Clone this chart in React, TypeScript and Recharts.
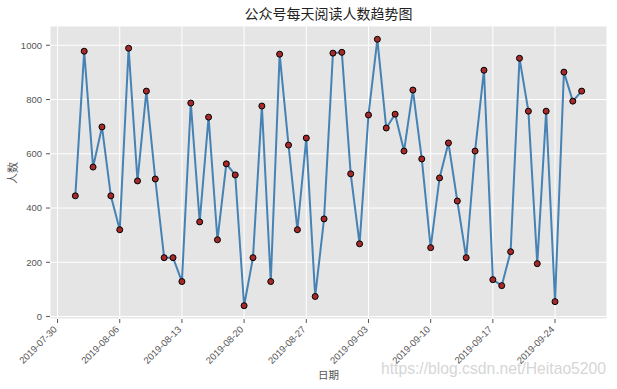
import { CartesianGrid, Line, LineChart, XAxis, YAxis } from "recharts";

// 2019-08-01 .. 2019-09-27
const dates = [
  "2019-08-01", "2019-08-02", "2019-08-03", "2019-08-04", "2019-08-05", "2019-08-06",
  "2019-08-07", "2019-08-08", "2019-08-09", "2019-08-10", "2019-08-11", "2019-08-12",
  "2019-08-13", "2019-08-14", "2019-08-15", "2019-08-16", "2019-08-17", "2019-08-18",
  "2019-08-19", "2019-08-20", "2019-08-21", "2019-08-22", "2019-08-23", "2019-08-24",
  "2019-08-25", "2019-08-26", "2019-08-27", "2019-08-28", "2019-08-29", "2019-08-30",
  "2019-08-31", "2019-09-01", "2019-09-02", "2019-09-03", "2019-09-04", "2019-09-05",
  "2019-09-06", "2019-09-07", "2019-09-08", "2019-09-09", "2019-09-10", "2019-09-11",
  "2019-09-12", "2019-09-13", "2019-09-14", "2019-09-15", "2019-09-16", "2019-09-17",
  "2019-09-18", "2019-09-19", "2019-09-20", "2019-09-21", "2019-09-22", "2019-09-23",
  "2019-09-24", "2019-09-25", "2019-09-26", "2019-09-27",
];

const readers = [
  445, 978, 551, 699, 445, 320, 989, 500, 831, 507, 217, 217, 129, 787, 349,
  735, 283, 563, 522, 40, 217, 776, 129, 967, 632, 320, 658, 74, 360, 971,
  974, 526, 268, 743, 1022, 695, 746, 610, 835, 581, 254, 511, 640, 426, 217,
  610, 908, 136, 114, 239, 952, 757, 195, 757, 55, 901, 794, 831,
];

const xTickLabels = [
  "2019-07-30", "2019-08-06", "2019-08-13", "2019-08-20", "2019-08-27",
  "2019-09-03", "2019-09-10", "2019-09-17", "2019-09-24",
];
const yTicks = [0, 200, 400, 600, 800, 1000];

const DAY = 86400000;
const origin = Date.parse(xTickLabels[0]);
const toDay = (d: string) => (Date.parse(d) - origin) / DAY;

const data = dates.map((d, i) => ({ day: toDay(d), value: readers[i] }));
const xTicks = xTickLabels.map(toDay);

const tickFont = "'Liberation Sans', Arial, sans-serif";
const cjkFont = "'Noto Sans CJK SC', sans-serif";

const XTick = (props: any) => {
  const { x, y, payload } = props;
  const label = xTickLabels[xTicks.indexOf(payload.value)];
  return (
    <text
      x={x}
      y={y}
      transform={`rotate(-45 ${x} ${y})`}
      textAnchor="end"
      fontSize={9.5}
      fontFamily={tickFont}
      fill="#555"
    >
      {label}
    </text>
  );
};

export default function App() {
  return (
    <div
      style={{
        position: "absolute",
        left: 0,
        top: 0,
        width: 617,
        height: 389,
        background: "#fff",
      }}
    >
      <LineChart
        width={617}
        height={389}
        data={data}
        margin={{ top: 26, right: 10, bottom: 0, left: 0 }}
      >
        <CartesianGrid fill="#E5E5E5" stroke="#fff" strokeWidth={1} />
        <XAxis
          type="number"
          dataKey="day"
          domain={[-0.85, 61.85]}
          ticks={xTicks}
          height={70}
          axisLine={false}
          tickLine={{ stroke: "#555" }}
          tickSize={4}
          tickMargin={7}
          tick={<XTick />}
          allowDataOverflow
        />
        <YAxis
          type="number"
          domain={[-9, 1071]}
          ticks={yTicks}
          width={50}
          axisLine={false}
          tickLine={{ stroke: "#555" }}
          tickSize={4}
          tickMargin={4}
          tick={{ fontSize: 9.5, fontFamily: tickFont, fill: "#555" }}
          allowDataOverflow
        />
        <Line
          type="linear"
          dataKey="value"
          stroke="#4682B4"
          strokeWidth={2}
          dot={{ r: 3, fill: "#A52A2A", stroke: "#000", strokeWidth: 1 }}
          isAnimationActive={false}
        />
      </LineChart>

      <div
        style={{
          position: "absolute",
          left: 50,
          width: 557,
          top: 6,
          textAlign: "center",
          fontFamily: cjkFont,
          fontSize: 14,
          lineHeight: 1,
          color: "#222",
        }}
      >
        公众号每天阅读人数趋势图
      </div>
      <div
        style={{
          position: "absolute",
          left: 50,
          width: 557,
          top: 370,
          textAlign: "center",
          fontFamily: cjkFont,
          fontSize: 10.5,
          lineHeight: 1,
          color: "#555",
        }}
      >
        日期
      </div>
      <div
        style={{
          position: "absolute",
          left: 12,
          top: 173,
          transform: "translate(-50%, -50%) rotate(-90deg)",
          fontFamily: cjkFont,
          fontSize: 11,
          lineHeight: 1,
          color: "#555",
          whiteSpace: "nowrap",
        }}
      >
        人数
      </div>
      <div
        style={{
          position: "absolute",
          left: 381,
          top: 361,
          fontFamily: tickFont,
          fontSize: 15.7,
          lineHeight: 1,
          color: "#d6d6d6",
          whiteSpace: "nowrap",
        }}
      >
        https://blog.csdn.net/Heitao5200
      </div>
    </div>
  );
}
